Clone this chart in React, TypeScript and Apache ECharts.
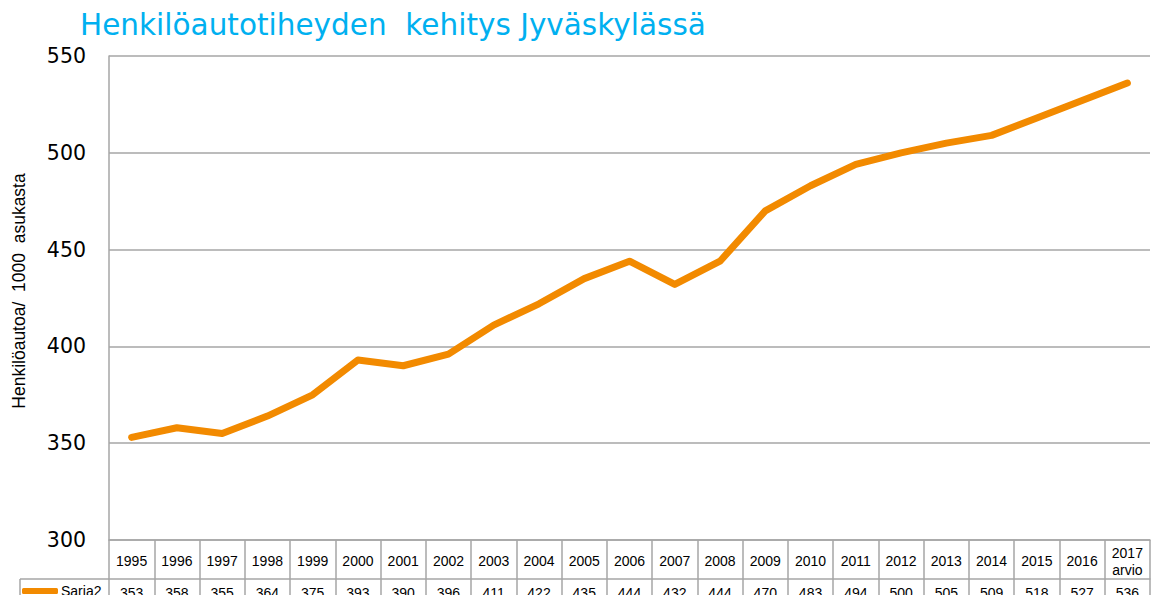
import React, { useEffect, useRef } from "react";
import * as echarts from "echarts";

const years = ["1995","1996","1997","1998","1999","2000","2001","2002","2003","2004","2005","2006","2007","2008","2009","2010","2011","2012","2013","2014","2015","2016","2017\narvio"];
const values = [353,358,355,364,375,393,390,396,411,422,435,444,432,444,470,483,494,500,505,509,518,527,536];
const seriesName = "Saria2";
const titleText = "Henkilöautotiheyden  kehitys Jyväskylässä";
const yName = "Henkilöautoa/  1000  asukasta";

const GRID_COLOR = "#A6A6A6";
const LINE_COLOR = "#F28A00";

export default function App() {
  const ref = useRef<HTMLDivElement>(null);
  useEffect(() => {
    if (!ref.current) return;
    const chart = echarts.init(ref.current, undefined, { renderer: "svg" });
    chart.setOption({
      animation: false,
      backgroundColor: "#fff",
      title: {
        text: titleText,
        left: 75,
        top: 5,
        textStyle: { color: "#00B0F0", fontSize: 29.5, fontWeight: "normal", fontFamily: "DejaVu Sans" },
      },
      legend: {
        left: 22,
        top: 584,
        padding: 0,
        icon: "roundRect",
        itemWidth: 36,
        itemHeight: 6,
        itemGap: 4,
        textStyle: { fontSize: 14, color: "#000", fontFamily: "Liberation Sans", padding: [0, 0, 0, -2] },
        data: [seriesName],
      },
      grid: { left: 109, right: 1, top: 56, bottom: 55, containLabel: false, outerBoundsMode: "none" },
      xAxis: [
        {
          type: "category",
          data: years,
          boundaryGap: true,
          position: "bottom",
          axisLine: { show: true, lineStyle: { color: GRID_COLOR, width: 1.5 } },
          axisTick: { show: true, interval: 0, length: 60, lineStyle: { color: GRID_COLOR, width: 1.5 } },
          axisLabel: {
            interval: 0,
            margin: 21,
            verticalAlign: "middle",
            fontSize: 14,
            lineHeight: 17,
            color: "#000",
            fontFamily: "Liberation Sans",
          },
        },
        {
          type: "category",
          data: values.map(String),
          boundaryGap: true,
          position: "bottom",
          offset: 39,
          axisLine: { show: true, lineStyle: { color: GRID_COLOR, width: 1.5 } },
          axisTick: { show: false },
          axisLabel: {
            interval: 0,
            margin: 7,
            fontSize: 14,
            color: "#000",
            fontFamily: "Liberation Sans",
          },
        },
      ],
      yAxis: {
        type: "value",
        min: 300,
        max: 550,
        interval: 50,
        axisLine: { show: true, lineStyle: { color: GRID_COLOR, width: 1.5 } },
        axisTick: { show: false },
        axisLabel: { fontSize: 20.5, color: "#000", fontFamily: "DejaVu Sans", margin: 23 },
        splitLine: { show: true, lineStyle: { color: GRID_COLOR, width: 1.5 } },
      },
      graphic: [
        {
          type: "text",
          x: 19,
          y: 291,
          rotation: Math.PI / 2,
          style: {
            text: yName,
            fill: "#000",
            font: "17.5px 'Liberation Sans'",
            align: "center",
            verticalAlign: "middle",
          },
        },
        { type: "line", shape: { x1: 20, y1: 579, x2: 109, y2: 579 }, style: { stroke: GRID_COLOR, lineWidth: 1.5 } },
        { type: "line", shape: { x1: 20, y1: 579, x2: 20, y2: 600 }, style: { stroke: GRID_COLOR, lineWidth: 1.5 } },
      ],
      series: [
        {
          name: seriesName,
          type: "line",
          xAxisIndex: 0,
          data: values,
          symbol: "none",
          showSymbol: false,
          color: LINE_COLOR,
          lineStyle: { color: LINE_COLOR, width: 7, cap: "round", join: "round" },
        },
      ],
    });
    return () => chart.dispose();
  }, []);
  return <div ref={ref} style={{ position: "fixed", left: 0, top: 0, width: 1151, height: 595 }} />;
}
